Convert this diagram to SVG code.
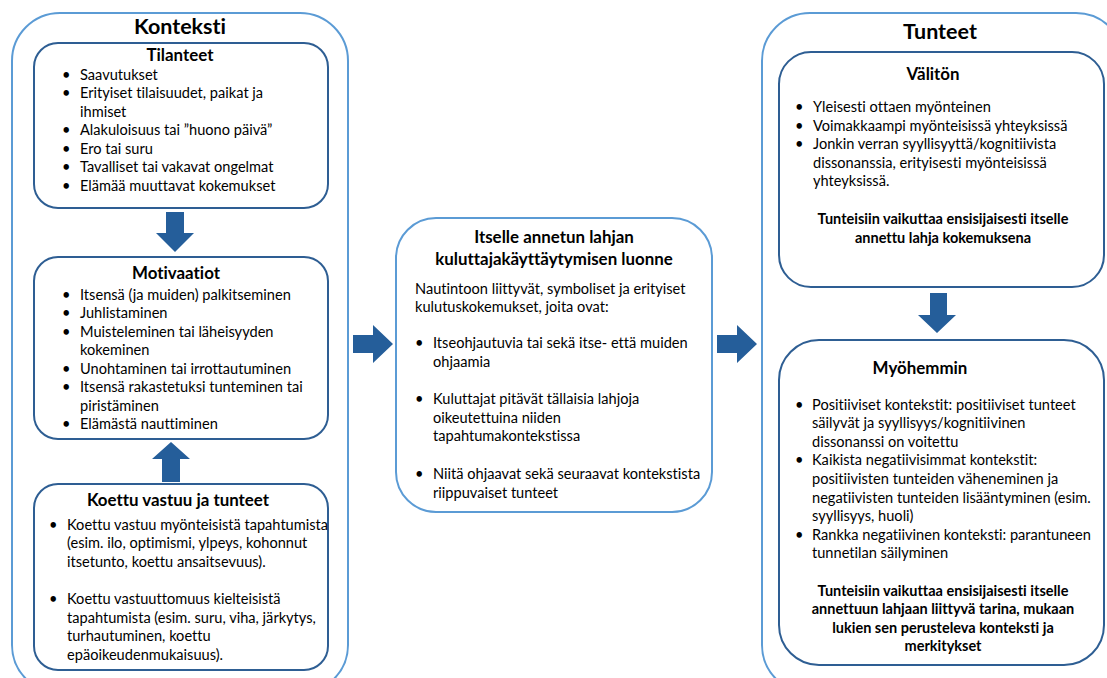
<svg xmlns="http://www.w3.org/2000/svg" width="1107" height="678" viewBox="0 0 1107 678">
<style>
text{font-family:Lato,"Liberation Sans",sans-serif;fill:#000;font-variant-ligatures:none;font-feature-settings:"liga" 0}
.big{font-size:21.5px;font-weight:bold;text-anchor:middle}
.h{font-size:16.9px;font-weight:bold;text-anchor:middle}
.t{font-size:14.6px}
.b{font-size:14.5px;font-weight:bold;text-anchor:middle}
.outer{fill:#fff;stroke:#5B9BD5;stroke-width:2}
.inner{fill:#fff;stroke:#2E5E93;stroke-width:2}
.mid{fill:#fff;stroke:#5B9BD5;stroke-width:2}
.arr{fill:#255E9A}
</style>
<rect width="1107" height="678" fill="#fff"/>
<g id="konteksti">
<rect class="outer" x="12" y="13" width="336" height="680" rx="48"/>
<text class="big" x="180" y="34">Konteksti</text>
</g>
<g id="tilanteet">
<rect class="inner" x="34" y="43" width="294" height="165" rx="24"/>
<text class="h" x="180" y="61">Tilanteet</text>
<text class="t" x="62" y="80">•</text><text class="t" x="80" y="80">Saavutukset</text>
<text class="t" x="62" y="98">•</text><text class="t" x="80" y="98">Erityiset tilaisuudet, paikat ja</text>
<text class="t" x="80" y="117">ihmiset</text>
<text class="t" x="62" y="135">•</text><text class="t" x="80" y="135">Alakuloisuus tai ”huono päivä”</text>
<text class="t" x="62" y="154">•</text><text class="t" x="80" y="154">Ero tai suru</text>
<text class="t" x="62" y="172">•</text><text class="t" x="80" y="172">Tavalliset tai vakavat ongelmat</text>
<text class="t" x="62" y="191">•</text><text class="t" x="80" y="191">Elämää muuttavat kokemukset</text>
</g>
<g id="motivaatiot">
<rect class="inner" x="34" y="257" width="294" height="182" rx="24"/>
<text class="h" x="176" y="279">Motivaatiot</text>
<text class="t" x="62" y="300">•</text><text class="t" x="80" y="300">Itsensä (ja muiden) palkitseminen</text>
<text class="t" x="62" y="318">•</text><text class="t" x="80" y="318">Juhlistaminen</text>
<text class="t" x="62" y="337">•</text><text class="t" x="80" y="337">Muisteleminen tai läheisyyden</text>
<text class="t" x="80" y="355">kokeminen</text>
<text class="t" x="62" y="374">•</text><text class="t" x="80" y="374">Unohtaminen tai irrottautuminen</text>
<text class="t" x="62" y="392">•</text><text class="t" x="80" y="392">Itsensä rakastetuksi tunteminen tai</text>
<text class="t" x="80" y="411">piristäminen</text>
<text class="t" x="62" y="429">•</text><text class="t" x="80" y="429">Elämästä nauttiminen</text>
</g>
<g id="koettu">
<rect class="inner" x="34" y="484" width="294" height="186" rx="24"/>
<text class="h" x="178" y="506">Koettu vastuu ja tunteet</text>
<text class="t" x="49" y="530">•</text><text class="t" x="67" y="530">Koettu vastuu myönteisistä tapahtumista</text>
<text class="t" x="67" y="548">(esim. ilo, optimismi, ylpeys, kohonnut</text>
<text class="t" x="67" y="567">itsetunto, koettu ansaitsevuus).</text>
<text class="t" x="49" y="604">•</text><text class="t" x="67" y="604">Koettu vastuuttomuus kielteisistä</text>
<text class="t" x="67" y="623">tapahtumista (esim. suru, viha, järkytys,</text>
<text class="t" x="67" y="641">turhautuminen, koettu</text>
<text class="t" x="67" y="660">epäoikeudenmukaisuus).</text>
</g>
<g id="luonne">
<rect class="mid" x="396" y="218" width="316" height="294" rx="40"/>
<text class="h" x="554" y="243">Itselle annetun lahjan</text>
<text class="h" x="554" y="265">kuluttajakäyttäytymisen luonne</text>
<text class="t" x="415" y="294">Nautintoon liittyvät, symboliset ja erityiset</text>
<text class="t" x="415" y="312">kulutuskokemukset, joita ovat:</text>
<text class="t" x="415" y="348">•</text><text class="t" x="433" y="348">Itseohjautuvia tai sekä itse- että muiden</text>
<text class="t" x="433" y="367">ohjaamia</text>
<text class="t" x="415" y="404">•</text><text class="t" x="433" y="404">Kuluttajat pitävät tällaisia lahjoja</text>
<text class="t" x="433" y="423">oikeutettuina niiden</text>
<text class="t" x="433" y="441">tapahtumakontekstissa</text>
<text class="t" x="415" y="479">•</text><text class="t" x="433" y="479">Niitä ohjaavat sekä seuraavat kontekstista</text>
<text class="t" x="433" y="498">riippuvaiset tunteet</text>
</g>
<g id="tunteet">
<rect class="outer" x="762" y="13" width="362" height="680" rx="48"/>
<text class="big" x="940" y="39">Tunteet</text>
</g>
<g id="valiton">
<rect class="inner" x="779" y="52" width="325" height="235" rx="32"/>
<text class="h" x="933" y="80">Välitön</text>
<text class="t" x="795" y="112">•</text><text class="t" x="813" y="112">Yleisesti ottaen myönteinen</text>
<text class="t" x="795" y="131">•</text><text class="t" x="813" y="131">Voimakkaampi myönteisissä yhteyksissä</text>
<text class="t" x="795" y="149">•</text><text class="t" x="813" y="149">Jonkin verran syyllisyyttä/kognitiivista</text>
<text class="t" x="813" y="168">dissonanssia, erityisesti myönteisissä</text>
<text class="t" x="813" y="186">yhteyksissä.</text>
<text class="b" x="943" y="224">Tunteisiin vaikuttaa ensisijaisesti itselle</text>
<text class="b" x="943" y="243">annettu lahja kokemuksena</text>
</g>
<g id="myohemmin">
<rect class="inner" x="779" y="340" width="325" height="325" rx="40"/>
<text class="h" x="920" y="374">Myöhemmin</text>
<text class="t" x="795" y="410">•</text><text class="t" x="812" y="410">Positiiviset kontekstit: positiiviset tunteet</text>
<text class="t" x="812" y="428">säilyvät ja syyllisyys/kognitiivinen</text>
<text class="t" x="812" y="447">dissonanssi on voitettu</text>
<text class="t" x="795" y="465">•</text><text class="t" x="812" y="465">Kaikista negatiivisimmat kontekstit:</text>
<text class="t" x="812" y="484">positiivisten tunteiden väheneminen ja</text>
<text class="t" x="812" y="503">negatiivisten tunteiden lisääntyminen (esim.</text>
<text class="t" x="812" y="521">syyllisyys, huoli)</text>
<text class="t" x="795" y="540">•</text><text class="t" x="812" y="540">Rankka negatiivinen konteksti: parantuneen</text>
<text class="t" x="812" y="558">tunnetilan säilyminen</text>
<text class="b" x="943" y="596">Tunteisiin vaikuttaa ensisijaisesti itselle</text>
<text class="b" x="943" y="614">annettuun lahjaan liittyvä tarina, mukaan</text>
<text class="b" x="943" y="633">lukien sen perusteleva konteksti ja</text>
<text class="b" x="943" y="651">merkitykset</text>
</g>
<g id="connectors">
<path class="arr" d="M166,212 H184 V233 H194 L175,252 L156,233 H166 Z"/>
<path class="arr" d="M162,482 H180 V459 H190 L171,442 L152,459 H162 Z"/>
<path class="arr" d="M353,335 H373 V325 L393,344 L373,363 V353 H353 Z"/>
<path class="arr" d="M717,335 H737 V325 L757,344 L737,363 V353 H717 Z"/>
<path class="arr" d="M930,293 H947 V315 H956 L937,333 L918,315 H930 Z"/>
</g>
</svg>
